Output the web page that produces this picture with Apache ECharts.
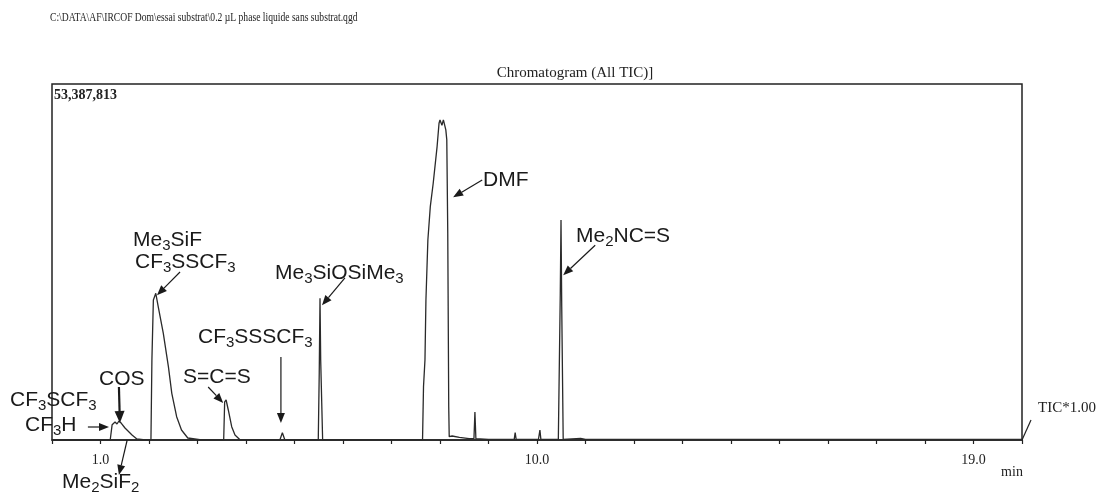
<!DOCTYPE html>
<html><head><meta charset="utf-8">
<script src="https://cdn.jsdelivr.net/npm/echarts@6/dist/echarts.min.js"></script>
<style>html,body{margin:0;padding:0;background:#fff}#c{width:1097px;height:494px}</style>
</head><body><div id="c"></div>
<script>
// retention time (min)
const times = [0.00,1.20,1.236,1.24,1.30,1.34,1.38,1.43,1.505,1.65,1.75,1.88,
  2.04,2.06,2.09,2.14,2.19,2.295,2.40,2.47,2.57,2.67,2.80,3.05,
  3.54,3.56,3.59,3.635,3.705,3.773,3.876,
  4.70,4.75,4.80,
  5.49,5.51,5.526,5.54,5.58,
  7.64,7.66,7.69,7.71,7.75,7.80,7.86,7.94,7.98,8.00,8.02,8.04,8.07,8.09,8.12,8.14,8.16,8.18,8.19,8.25,8.40,8.60,
  8.70,8.72,8.74,9.00,9.53,9.55,9.57,10.03,10.06,10.08,
  10.44,10.48,10.495,10.51,10.54,10.90,11.0,20.0];
// total ion current (millions of counts)
const tic = [0.00,0.00,0.05,2.3,2.7,2.4,2.85,2.5,1.8,0.75,0.15,0.05,
  0.05,12.0,21.0,22.0,20.0,16.0,11.0,7.0,3.5,1.5,0.3,0.05,
  0.05,5.7,6.0,4.5,2.0,0.75,0.05,
  0.05,1.1,0.05,
  0.05,10.0,21.25,12.0,0.05,
  0.05,8.0,12.0,21.0,30.0,35.0,38.5,44.0,47.5,48.0,48.2,47.2,48.0,48.0,46.5,45.0,31.0,5.0,0.5,0.6,0.4,0.2,
  0.2,4.2,0.2,0.1,0.1,1.1,0.1,0.1,1.5,0.1,
  0.1,22.0,33.0,20.0,0.1,0.25,0.1,0.1];
const yMaxCounts = 53387813;
const xLabelTicks = [1, 10, 19];

// peak annotations: label text (rich), label left/center position, arrow tail & head in data coords [min, Mcounts]
const labelTexts = ['Me{s|3}SiF','CF{s|3}SSCF{s|3}','Me{s|3}SiOSiMe{s|3}','CF{s|3}SSSCF{s|3}','S=C=S','COS','CF{s|3}SCF{s|3}','CF{s|3}H','Me{s|2}SiF{s|2}','DMF','Me{s|2}NC=S'];
const labelPos = [[133,240],[135,262],[275,273],[198,337],[183,377],[99,379],[10,400],[25,425],[62,482],[483,180],[576,236]];
const arrowTails = [[2.64,25.2],[6.04,24.3],[4.72,12.45],[3.22,7.95],[1.38,7.95],[0.74,1.95],[1.55,0.0],[8.87,39.0],[11.2,29.2]];
const arrowHeads = [[2.165,21.7],[5.567,20.2],[4.72,2.55],[3.53,5.55],[1.40,2.55],[1.175,1.95],[1.38,-5.25],[8.27,36.4],[10.54,24.7]];
const arrowWidths = [1.2,1.2,1.2,1.2,2.2,1.2,1.2,1.2,1.2];

const SANS = 'Liberation Sans, Arial, sans-serif';
const SERIF = 'Liberation Serif, Times New Roman, serif';
const yMax = yMaxCounts / 1e6;

const chart = echarts.init(document.getElementById('c'), null, {renderer:'canvas'});
chart.setOption({
  animation: false,
  grid: {left: 52, right: 75, top: 84, bottom: 54, show: true, borderColor: '#222', borderWidth: 1.5, backgroundColor: 'transparent'},
  xAxis: {
    type: 'value', min: 0, max: 20, interval: 1,
    axisLine: {show: true, lineStyle: {color: '#222', width: 1.5}},
    axisTick: {show: true, inside: false, length: 4, lineStyle: {color: '#222', width: 1.2}},
    axisLabel: {interval: 0, margin: 13, fontFamily: SERIF, fontSize: 14, color: '#222',
      formatter: v => xLabelTicks.indexOf(v) >= 0 ? v.toFixed(1) : ''},
    splitLine: {show: false}
  },
  yAxis: {type: 'value', min: 0, max: yMax, show: false, splitLine: {show: false}},
  series: [{
    type: 'line', data: times.map((t, i) => [t, tic[i]]), showSymbol: false, clip: false,
    lineStyle: {color: '#2a2a2a', width: 1.3}
  }]
});

const g = [];
g.push({type:'text', x: 50, y: 18, scaleX: 0.835, style:{text:'C:\\DATA\\AF\\IRCOF Dom\\essai substrat\\0.2 µL phase liquide sans substrat.qgd', font:'11.5px '+SERIF, fill:'#222', verticalAlign:'middle'}});
g.push({type:'text', x: 575, y: 73, style:{text:'Chromatogram (All TIC)]', font:'15px '+SERIF, fill:'#222', align:'center', verticalAlign:'middle'}});
g.push({type:'text', x: 54, y: 95, style:{text: yMaxCounts.toLocaleString('en-US'), font:'bold 14px '+SERIF, fill:'#222', verticalAlign:'middle'}});
g.push({type:'text', x: 1038, y: 408, style:{text:'TIC*1.00', font:'15px '+SERIF, fill:'#222', verticalAlign:'middle'}});
g.push({type:'text', x: 1012, y: 472, style:{text:'min', font:'14px '+SERIF, fill:'#222', align:'center', verticalAlign:'middle'}});
g.push({type:'line', shape:{x1:1022, y1:440, x2:1031, y2:420}, style:{stroke:'#222', lineWidth:1.2}});

labelTexts.forEach((t, i) => {
  g.push({type:'text', x: labelPos[i][0], y: labelPos[i][1] - 13, z: 10,
    style:{text: t, fill:'#1a1a1a', fontFamily: SANS, fontSize: 21, lineHeight: 26,
      rich:{s:{fontFamily: SANS, fontSize: 15, lineHeight: 26, verticalAlign:'bottom', fill:'#1a1a1a'}}}});
});

arrowTails.forEach((tail, i) => {
  const p1 = chart.convertToPixel({xAxisIndex:0, yAxisIndex:0}, tail);
  const p2 = chart.convertToPixel({xAxisIndex:0, yAxisIndex:0}, arrowHeads[i]);
  const w = arrowWidths[i];
  const dx = p2[0]-p1[0], dy = p2[1]-p1[1];
  const len = Math.sqrt(dx*dx+dy*dy);
  const ux = dx/len, uy = dy/len;
  const hl = w > 2 ? 12 : 10, hw = w > 2 ? 5 : 4;
  const bx = p2[0]-ux*hl, by = p2[1]-uy*hl;
  g.push({type:'line', z: 10, shape:{x1:p1[0], y1:p1[1], x2:bx, y2:by}, style:{stroke:'#1a1a1a', lineWidth:w}});
  g.push({type:'polygon', z: 10, shape:{points:[[p2[0],p2[1]],[bx-uy*hw, by+ux*hw],[bx+uy*hw, by-ux*hw]]}, style:{fill:'#1a1a1a'}});
});
chart.setOption({graphic: g});
</script></body></html>
